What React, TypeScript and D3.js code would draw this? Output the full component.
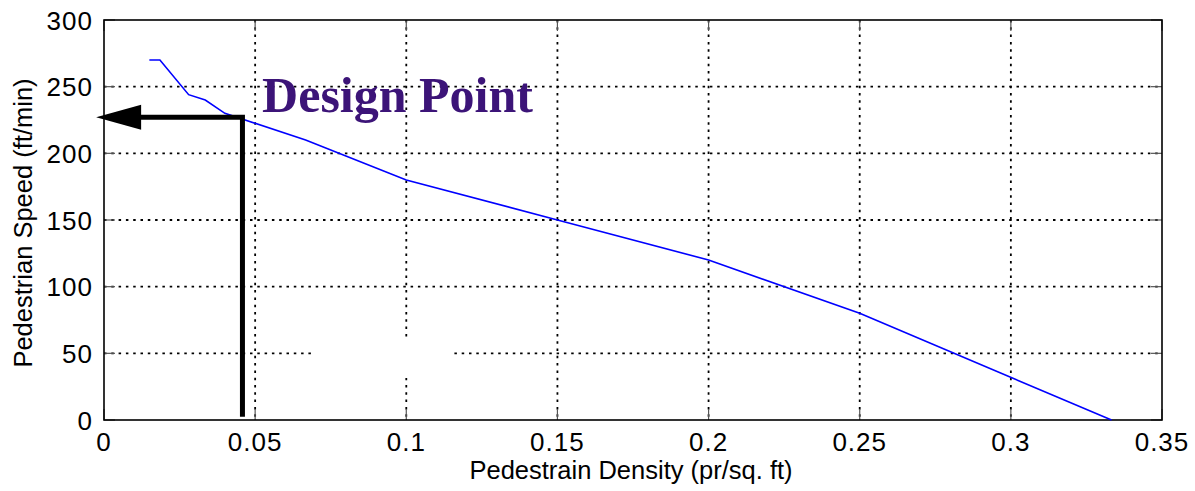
import React, { useEffect, useRef } from 'react';
import * as d3 from 'd3';

// pedestrian density (pr/sq. ft) vs speed (ft/min)
const density = [0.015, 0.0185, 0.028, 0.0335, 0.04, 0.0667, 0.1, 0.15, 0.2, 0.25, 0.3333];
const speed = [270, 270, 244, 240, 230, 210, 180, 150, 120, 80, 0];

const xTicks = [0, 0.05, 0.1, 0.15, 0.2, 0.25, 0.3, 0.35];
const yTicks = [0, 50, 100, 150, 200, 250, 300];
const xTickLabels = ['0', '0.05', '0.1', '0.15', '0.2', '0.25', '0.3', '0.35'];
const yTickLabels = ['0', '50', '100', '150', '200', '250', '300'];

// design point
const designDensity = 0.0458;
const designSpeed = 227;

const W = 1195;
const H = 491;

export default function App() {
  const ref = useRef<SVGSVGElement>(null);

  useEffect(() => {
    const svg = d3.select(ref.current);
    svg.selectAll('*').remove();

    const margin = { top: 20, right: 33, bottom: 71, left: 104 };
    const x = d3.scaleLinear().domain([0, 0.35]).range([margin.left, W - margin.right]);
    const y = d3.scaleLinear().domain([0, 300]).range([H - margin.bottom, margin.top]);
    const [x0, x1] = x.range();
    const [y0, y1] = y.range();
    const font = 'Liberation Sans, Arial, Helvetica, sans-serif';

    svg.append('rect').attr('width', W).attr('height', H).attr('fill', '#fff');

    // dotted grid
    const grid = svg.append('g')
      .attr('stroke', '#000')
      .attr('stroke-width', 1.8)
      .attr('stroke-dasharray', '2.5,4.8');
    grid.selectAll('.gx')
      .data(xTicks.slice(1, -1))
      .enter().append('line')
      .attr('x1', d => x(d)).attr('x2', d => x(d))
      .attr('y1', y1).attr('y2', y0);
    grid.selectAll('.gy')
      .data(yTicks.slice(1, -1))
      .enter().append('line')
      .attr('y1', d => y(d)).attr('y2', d => y(d))
      .attr('x1', x0).attr('x2', x1);

    // blank patch where the grid is hidden in the original
    svg.append('rect')
      .attr('x', x(0.0698)).attr('y', y(62))
      .attr('width', x(0.1155) - x(0.0698))
      .attr('height', y(31.5) - y(62))
      .attr('fill', '#fff');

    // ticks on all four sides, pointing inward
    const tk = svg.append('g').attr('stroke', '#555').attr('stroke-width', 1.2);
    const tl = 11;
    xTicks.forEach(t => {
      tk.append('line').attr('x1', x(t)).attr('x2', x(t)).attr('y1', y0).attr('y2', y0 - tl);
      tk.append('line').attr('x1', x(t)).attr('x2', x(t)).attr('y1', y1).attr('y2', y1 + tl);
    });
    yTicks.forEach(t => {
      tk.append('line').attr('y1', y(t)).attr('y2', y(t)).attr('x1', x0).attr('x2', x0 + tl);
      tk.append('line').attr('y1', y(t)).attr('y2', y(t)).attr('x1', x1).attr('x2', x1 - tl);
    });

    // box
    svg.append('rect')
      .attr('x', x0).attr('y', y1)
      .attr('width', x1 - x0).attr('height', y0 - y1)
      .attr('fill', 'none').attr('stroke', '#000').attr('stroke-width', 1.6);

    // tick labels
    svg.append('g').selectAll('text')
      .data(xTicks)
      .enter().append('text')
      .attr('x', d => x(d))
      .attr('y', 451)
      .attr('text-anchor', 'middle')
      .style('font-family', font).style('font-size', '26px').style('letter-spacing', '1px')
      .text((d, i) => xTickLabels[i]);
    svg.append('g').selectAll('text')
      .data(yTicks)
      .enter().append('text')
      .attr('x', x0 - 11)
      .attr('y', d => y(d) + 9.5)
      .attr('text-anchor', 'end')
      .style('font-family', font).style('font-size', '26px').style('letter-spacing', '1px')
      .text((d, i) => yTickLabels[i]);

    // axis titles
    svg.append('text')
      .attr('x', 631).attr('y', 479)
      .attr('text-anchor', 'middle')
      .style('font-family', font).style('font-size', '25.5px')
      .text('Pedestrain Density (pr/sq. ft)');
    svg.append('text')
      .attr('transform', 'translate(32,223) rotate(-90)')
      .attr('text-anchor', 'middle')
      .style('font-family', font).style('font-size', '25.5px')
      .text('Pedestrian Speed (ft/min)');

    // the curve
    const line = d3.line<number>()
      .x((d, i) => x(density[i]))
      .y(d => y(d));
    svg.append('path')
      .datum(speed)
      .attr('d', line)
      .attr('fill', 'none')
      .attr('stroke', '#0000ff')
      .attr('stroke-width', 1.6);

    // design point arrow
    const px = x(designDensity);
    const py = y(designSpeed);
    svg.append('path')
      .attr('d', `M${px},${y(2.5)}V${py}H${x(-0.0026) + 44}`)
      .attr('fill', 'none')
      .attr('stroke', '#000')
      .attr('stroke-width', 5);
    const tipX = x(-0.0026);
    svg.append('path')
      .attr('d', `M${tipX},${py}L${tipX + 45},${py - 12.5}L${tipX + 45},${py + 12.5}Z`)
      .attr('fill', '#000');

    svg.append('text')
      .attr('x', x(0.0523)).attr('y', y(231))
      .style('font-family', 'Liberation Serif, Times New Roman, serif')
      .style('font-weight', 'bold')
      .style('font-size', '50px')
      .attr('fill', '#3c1478')
      .text('Design Point');
  }, []);

  return (
    <svg
      ref={ref}
      width={W}
      height={H}
      style={{ position: 'absolute', left: 0, top: 0 }}
    />
  );
}
